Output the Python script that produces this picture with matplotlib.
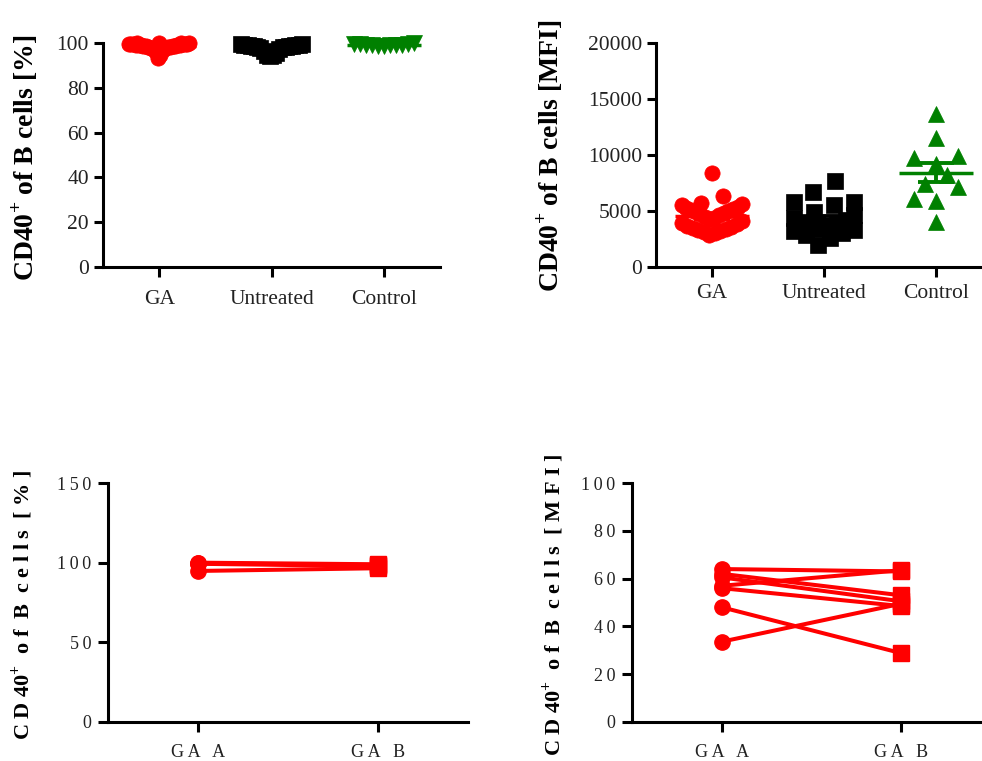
import numpy as np
import matplotlib
matplotlib.use("Agg")
import matplotlib.pyplot as plt

# --- data ---
groups = ["GA", "Untreated", "Control"]

pct_ga = [93.2, 94.5, 95.8, 96.8, 97.3, 97.6, 97.9, 98.1, 98.3, 98.4,
          98.5, 98.6, 98.7, 98.8, 98.9, 99.0, 99.1, 99.2, 99.3, 99.4,
          99.5, 99.5, 99.6, 99.7, 99.7, 99.8, 99.9, 99.9, 100.0]
pct_untreated = [94.2, 94.5, 94.8, 95.5, 96.5, 97.5, 97.8, 98.0, 98.2, 98.3,
                 98.5, 98.6, 98.7, 98.8, 98.9, 99.0, 99.1, 99.2, 99.4, 99.5]
pct_control = [98.6, 98.8, 99.0, 99.0, 99.1, 99.2, 99.3, 99.4, 99.5, 99.6, 99.8]

mfi_ga = [8400, 6300, 5700, 5600, 5500, 5400, 5300, 5200, 5100, 5000,
          4900, 4800, 4700, 4600, 4500, 4400, 4300, 4100, 3900, 3800,
          3700, 3600, 3500, 3400, 3300, 3200, 3100, 3000, 2900]
mfi_untreated = [7700, 6700, 5800, 5800, 5500, 4900, 4600, 4400, 4200, 4000,
                 3800, 3700, 3600, 3400, 3300, 3200, 3000, 2900, 2600, 2000]
mfi_control = [13700, 11500, 9700, 9900, 9200, 8200, 7400, 7100, 6100, 5900, 4000]

pair_labels = ["GA A", "GA B"]
pct_a = [100.0, 99.3, 99.6, 94.8]
pct_b = [99.0, 97.8, 98.5, 96.5]
mfi_a = [64, 57, 62, 60.5, 56, 33.6, 48]
mfi_b = [63, 63.5, 53, 50.5, 48.5, 49.5, 28.8]

RED, BLACK, GREEN = "#ff0000", "#000000", "#008000"

plt.rcParams['font.family'] = ['Liberation Serif', 'DejaVu Serif']
plt.rcParams['mathtext.fontset'] = 'custom'
plt.rcParams['mathtext.rm'] = 'Liberation Serif'
plt.rcParams['mathtext.bf'] = 'Liberation Serif:bold'

W, H = 982, 761
fig = plt.figure(figsize=(W / 100, H / 100), dpi=100)


def box(l, t, r, b):
    return [l / W, 1 - b / H, (r - l) / W, (b - t) / H]


def spread(vals, x0, ppu_x, ppu_y, d=15, dx=22, cap=0.27):
    # rows of marker height, each row spread sideways, lowest value in the middle
    v = np.sort(np.asarray(vals, float))
    xs, ys = [], []
    i = 0
    while i < len(v):
        j = i
        while j < len(v) and (v[j] - v[i]) * ppu_y < d:
            j += 1
        row = v[i:j]
        n = len(row)
        step = dx / ppu_x
        if n > 1:
            step = min(step, 2 * cap / (n - 1))
        slots = (np.arange(n) - (n - 1) / 2) * step
        slots = slots[np.argsort(np.abs(slots), kind='stable')]
        xs += list(x0 + slots)
        ys += list(row)
        i = j
    return np.array(xs), np.array(ys)


def style(ax, yticks, ylabels=None, fs=15.5, xpad=7, ypad=3.6):
    for s in ['top', 'right']:
        ax.spines[s].set_visible(False)
    for s in ['left', 'bottom']:
        ax.spines[s].set_linewidth(2.2)
    ax.set_yticks(yticks)
    if ylabels is not None:
        ax.set_yticklabels(ylabels)
    ax.tick_params(axis='both', width=2.2, length=7, labelsize=fs, colors='black')
    ax.tick_params(axis='x', pad=xpad)
    ax.tick_params(axis='y', pad=ypad, length=6.5)
    for t in ax.get_xticklabels() + ax.get_yticklabels():
        t.set_color('#222222')


def mean_sem(ax, x, vals, color):
    m = np.mean(vals)
    se = np.std(vals, ddof=1) / np.sqrt(len(vals))
    ax.hlines(m, x - 0.33, x + 0.33, color=color, lw=2.5, zorder=5)
    ax.vlines(x, m - se, m + se, color=color, lw=2.8, zorder=5)
    ax.hlines([m - se, m + se], x - 0.16, x + 0.16, color=color, lw=2.8, zorder=5)


def dots(ax, vals_list, markers, colors, ylim):
    ax.set_xlim(-0.5, 2.5)
    ax.set_ylim(*ylim)
    pos = ax.get_position()
    ppu_x = pos.width * W / 3.0
    ppu_y = pos.height * H / (ylim[1] - ylim[0])
    for k, (vals, mk, c) in enumerate(zip(vals_list, markers, colors)):
        xs, ys = spread(vals, k, ppu_x, ppu_y)
        ax.plot(xs, ys, linestyle='none', marker=mk, ms=11, color=c,
                mec=c, mew=0.5, clip_on=False, zorder=3)
        mean_sem(ax, k, vals, c)
    ax.set_xticks(range(3))
    ax.set_xticklabels(groups)


# top left: % of B cells
ax1 = fig.add_axes(box(103, 43, 440, 267))
dots(ax1, [pct_ga, pct_untreated, pct_control], ['o', 's', 'v'],
     [RED, BLACK, GREEN], (0, 100))
style(ax1, [0, 20, 40, 60, 80, 100], xpad=9.5)

# top right: MFI
ax2 = fig.add_axes(box(656, 43, 992, 267))
dots(ax2, [mfi_ga, mfi_untreated, mfi_control], ['o', 's', '^'],
     [RED, BLACK, GREEN], (0, 20000))
style(ax2, [0, 5000, 10000, 15000, 20000], xpad=5)

fig.text(25 / W, 1 - 158 / H, r'CD40$^{\mathbf{+}}$ of B cells [%]', rotation=90,
         ha='center', va='center', fontsize=20, fontweight='bold')
fig.text(550 / W, 1 - 156 / H, r'CD40$^{\mathbf{+}}$ of B cells [MFI]', rotation=90,
         ha='center', va='center', fontsize=20, fontweight='bold')


def spaced(s, sep=' '):
    return sep.join(s)


def pairs(ax, a, b, ylim, yticks):
    ax.set_xlim(-0.5, 1.5)
    ax.set_ylim(*ylim)
    for va, vb in zip(a, b):
        ax.plot([0, 1], [va, vb], color=RED, lw=2.9, zorder=2, clip_on=False)
    ax.plot(np.zeros(len(a)), a, linestyle='none', marker='o', ms=11,
            color=RED, clip_on=False, zorder=3)
    ax.plot(np.ones(len(b)), b, linestyle='none', marker='s', ms=11,
            color=RED, clip_on=False, zorder=3)
    ax.set_xticks([0, 1])
    ax.set_xticklabels([spaced(p.split()[0]) + '   ' + p.split()[1] for p in pair_labels])
    style(ax, yticks, [spaced(str(t), '\u2009') for t in yticks], fs=13, xpad=9, ypad=5)
    ax.tick_params(axis='both', length=7)


# bottom left: paired %
ax3 = fig.add_axes(box(108, 483, 468, 722))
pairs(ax3, pct_a, pct_b, (0, 150), [0, 50, 100, 150])

# bottom right: paired MFI
ax4 = fig.add_axes(box(632, 483, 991, 722))
pairs(ax4, mfi_a, mfi_b, (0, 100), [0, 20, 40, 60, 80, 100])

fig.text(22 / W, 1 - 605 / H,
         r'C D 40$^{\mathbf{+}}$  o f  B  c e l l s  [ % ]', rotation=90,
         ha='center', va='center', fontsize=16, fontweight='bold')
fig.text(553 / W, 1 - 605 / H,
         r'C D 40$^{\mathbf{+}}$  o f  B  c e l l s  [ M F I ]', rotation=90,
         ha='center', va='center', fontsize=16, fontweight='bold')

fig.savefig('out.png', dpi=100)
